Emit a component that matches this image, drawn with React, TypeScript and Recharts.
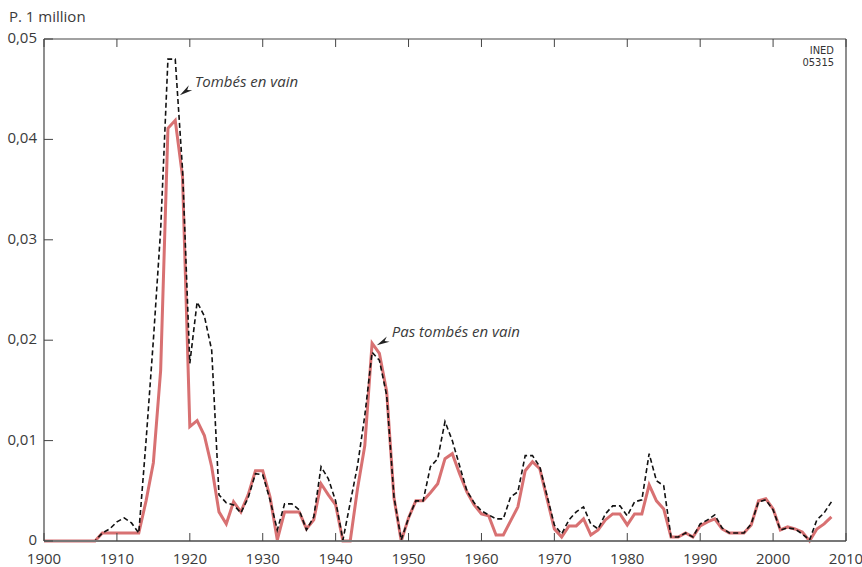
import { LineChart, Line, XAxis, YAxis, ReferenceDot } from "recharts"

const FONT = "'Open Sans', 'Noto Sans', sans-serif"
const TEXT = "#3a3a3a"
const FRAME = "#444"

// years of the series
const years = [
  1900, 1901, 1902, 1903, 1904, 1905, 1906, 1907, 1908, 1909,
  1910, 1911, 1912, 1913, 1914, 1915, 1916, 1917, 1918, 1919,
  1920, 1921, 1922, 1923, 1924, 1925, 1926, 1927, 1928, 1929,
  1930, 1931, 1932, 1933, 1934, 1935, 1936, 1937, 1938, 1939,
  1940, 1941, 1942, 1943, 1944, 1945, 1946, 1947, 1948, 1949,
  1950, 1951, 1952, 1953, 1954, 1955, 1956, 1957, 1958, 1959,
  1960, 1961, 1962, 1963, 1964, 1965, 1966, 1967, 1968, 1969,
  1970, 1971, 1972, 1973, 1974, 1975, 1976, 1977, 1978, 1979,
  1980, 1981, 1982, 1983, 1984, 1985, 1986, 1987, 1988, 1989,
  1990, 1991, 1992, 1993, 1994, 1995, 1996, 1997, 1998, 1999,
  2000, 2001, 2002, 2003, 2004, 2005, 2006, 2007, 2008,
]

// "Tombés en vain" (dashed black)
const fallenInVain = [
  0, 0, 0, 0, 0, 0, 0, 0, 0.0008, 0.0012,
  0.0019, 0.0023, 0.0018, 0.0008, 0.01, 0.02, 0.031, 0.048, 0.048, 0.037,
  0.0177, 0.0238, 0.0224, 0.019, 0.0046, 0.0038, 0.0036, 0.0028, 0.0043, 0.0067,
  0.0066, 0.0041, 0.0011, 0.0037, 0.0037, 0.0031, 0.0011, 0.0024, 0.0074, 0.0062,
  0.004, 0.0001, 0.0038, 0.0075, 0.0125, 0.0188, 0.018, 0.0145, 0.0044, 0.0001,
  0.0023, 0.004, 0.004, 0.0074, 0.0082, 0.0119, 0.01, 0.0075, 0.005, 0.0038,
  0.003, 0.0026, 0.0022, 0.0022, 0.0044, 0.0049, 0.0085, 0.0085, 0.0074, 0.0045,
  0.0016, 0.0007, 0.0021, 0.0029, 0.0034, 0.0017, 0.0012, 0.0027, 0.0035, 0.0035,
  0.0025, 0.0039, 0.0041, 0.0087, 0.006, 0.0055, 0.0004, 0.0004, 0.0008, 0.0004,
  0.0017, 0.0021, 0.0026, 0.0013, 0.0008, 0.0008, 0.0008, 0.0017, 0.0039, 0.0041,
  0.0031, 0.0011, 0.0013, 0.0012, 0.0007, 0.0001, 0.0021, 0.0028, 0.0039,
]

// "Pas tombés en vain" (solid red)
const notFallenInVain = [
  0, 0, 0, 0, 0, 0, 0, 0, 0.0008, 0.0008,
  0.0008, 0.0008, 0.0008, 0.0008, 0.004, 0.0078, 0.017, 0.0411, 0.0419, 0.0363,
  0.0114, 0.012, 0.0105, 0.0074, 0.0029, 0.0017, 0.0039, 0.0029, 0.0046, 0.007,
  0.007, 0.0044, 0.0001, 0.0029, 0.0029, 0.0029, 0.0012, 0.0021, 0.0057, 0.0046,
  0.0036, 0, 0, 0.0052, 0.0095, 0.0197, 0.0187, 0.0149, 0.0043, 0,
  0.0023, 0.004, 0.004, 0.0048, 0.0057, 0.0082, 0.0087, 0.0067, 0.0049, 0.0036,
  0.0027, 0.0025, 0.0006, 0.0006, 0.002, 0.0034, 0.007, 0.0079, 0.0072, 0.0042,
  0.0012, 0.0004, 0.0015, 0.0015, 0.0022, 0.0006, 0.0011, 0.0021, 0.0027, 0.0027,
  0.0016, 0.0027, 0.0027, 0.0056, 0.004, 0.0032, 0.0004, 0.0004, 0.0008, 0.0004,
  0.0015, 0.0019, 0.0022, 0.0012, 0.0008, 0.0008, 0.0008, 0.0016, 0.004, 0.0042,
  0.0032, 0.0011, 0.0014, 0.0012, 0.0009, 0, 0.0012, 0.0017, 0.0024,
]

const xTicks = [1900, 1910, 1920, 1930, 1940, 1950, 1960, 1970, 1980, 1990, 2000, 2010]
const yTicks = [0, 0.01, 0.02, 0.03, 0.04, 0.05]

const data = years.map((year, i) => ({
  year,
  fallen: fallenInVain[i],
  notFallen: notFallenInVain[i],
}))

const formatY = (v: number) => (v === 0 ? "0" : v.toFixed(2).replace(".", ","))

const BottomTick = ({ x, y, payload }: any) => (
  <g>
    <line x1={x} x2={x} y1={y} y2={y - 8} stroke={FRAME} strokeWidth={1} />
    <text x={x} y={y + 23} textAnchor="middle" fontSize={15} fill={TEXT} fontFamily={FONT}>
      {payload.value}
    </text>
  </g>
)

const TopTick = ({ x, y }: any) => (
  <line x1={x} x2={x} y1={y} y2={y + 8} stroke={FRAME} strokeWidth={1} />
)

const LeftTick = ({ x, y, payload }: any) => (
  <g>
    <line x1={x} x2={x + 9} y1={y} y2={y} stroke={FRAME} strokeWidth={1} />
    <text x={x - 7} y={y + 4} textAnchor="end" fontSize={15} fill={TEXT} fontFamily={FONT}>
      {formatY(payload.value)}
    </text>
  </g>
)

const RightTick = ({ x, y }: any) => (
  <line x1={x} x2={x - 9} y1={y} y2={y} stroke={FRAME} strokeWidth={1} />
)

// arrowhead + italic label
function Note({ cx, cy, label, dx, dy }: any) {
  const len = Math.hypot(dx, dy)
  const ux = dx / len
  const uy = dy / len
  const nx = -uy
  const ny = ux
  const L = 13
  const w = 3
  const pts = [
    [cx, cy],
    [cx + L * ux + w * nx, cy + L * uy + w * ny],
    [cx + (L - 4) * ux, cy + (L - 4) * uy],
    [cx + L * ux - w * nx, cy + L * uy - w * ny],
  ]
  return (
    <g>
      <polygon points={pts.map((p) => p.join(",")).join(" ")} fill="#222" />
      <text
        x={cx + 15}
        y={cy - 8}
        fontSize={15}
        fontStyle="italic"
        fill={TEXT}
        fontFamily={FONT}
      >
        {label}
      </text>
    </g>
  )
}

export default function App() {
  return (
    <div style={{ position: "absolute", left: 0, top: 0, width: 862, height: 567, background: "#fff" }}>
      <LineChart width={862} height={567} data={data} margin={{ top: 0, right: 0, bottom: 0, left: 0 }}>
        <XAxis
          dataKey="year"
          type="number"
          domain={[1900, 2010]}
          ticks={xTicks}
          interval={0}
          height={26}
          tickSize={0}
          tickMargin={0}
          tickLine={false}
          axisLine={{ stroke: "#777", strokeWidth: 2 }}
          tick={<BottomTick />}
        />
        <XAxis
          xAxisId="top"
          orientation="top"
          dataKey="year"
          type="number"
          domain={[1900, 2010]}
          ticks={xTicks}
          interval={0}
          height={39}
          tickSize={0}
          tickMargin={0}
          tickLine={false}
          axisLine={{ stroke: FRAME, strokeWidth: 1.2 }}
          tick={<TopTick />}
        />
        <YAxis
          type="number"
          domain={[0, 0.05]}
          ticks={yTicks}
          interval={0}
          width={44}
          tickSize={0}
          tickMargin={0}
          tickLine={false}
          axisLine={{ stroke: FRAME, strokeWidth: 1.2 }}
          tick={<LeftTick />}
        />
        <YAxis
          yAxisId="right"
          orientation="right"
          type="number"
          domain={[0, 0.05]}
          ticks={yTicks}
          interval={0}
          width={16}
          tickSize={0}
          tickMargin={0}
          tickLine={false}
          axisLine={{ stroke: FRAME, strokeWidth: 1.2 }}
          tick={<RightTick />}
        />
        <Line
          type="linear"
          dataKey="notFallen"
          stroke="#d87172"
          strokeWidth={3}
          dot={false}
          isAnimationActive={false}
        />
        <Line
          type="linear"
          dataKey="fallen"
          stroke="#111"
          strokeWidth={1.6}
          strokeDasharray="5 3"
          dot={false}
          isAnimationActive={false}
        />
        <ReferenceDot
          x={1918.63}
          y={0.0444}
          r={0}
          shape={(p: any) => <Note cx={p.cx} cy={p.cy} label="Tombés en vain" dx={13} dy={-9} />}
        />
        <ReferenceDot
          x={1945.64}
          y={0.0195}
          r={0}
          shape={(p: any) => <Note cx={p.cx} cy={p.cy} label="Pas tombés en vain" dx={13} dy={-7} />}
        />
      </LineChart>
      <div
        style={{
          position: "absolute",
          left: 9,
          top: 6,
          fontFamily: FONT,
          fontSize: 15,
          color: TEXT,
          whiteSpace: "nowrap",
        }}
      >
        P. 1 million
      </div>
      <div
        style={{
          position: "absolute",
          right: 28,
          top: 45,
          fontFamily: "'Liberation Sans Narrow', 'DejaVu Sans Condensed', sans-serif",
          fontSize: 11,
          lineHeight: "12px",
          color: "#333",
          textAlign: "right",
        }}
      >
        <div>INED</div>
        <div>05315</div>
      </div>
    </div>
  )
}
